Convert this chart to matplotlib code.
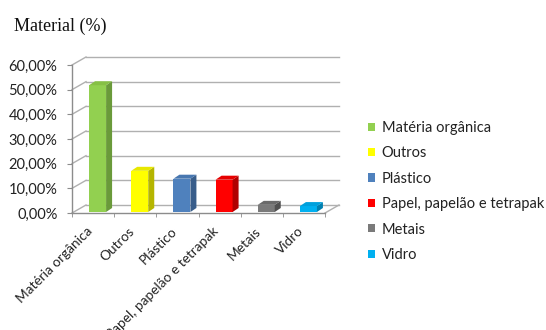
import matplotlib
matplotlib.use("Agg")
import matplotlib.pyplot as plt
from matplotlib.patches import Patch
from matplotlib.transforms import ScaledTranslation

categories = ["Matéria orgânica", "Outros", "Plástico",
              "Papel, papelão e tetrapak", "Metais", "Vidro"]
values = [51.4, 16.7, 13.5, 13.1, 2.9, 2.4]
yticks = [0, 10, 20, 30, 40, 50, 60]
ytick_labels = ["0,00%", "10,00%", "20,00%", "30,00%", "40,00%", "50,00%", "60,00%"]

front_colors = ["#92D050", "#FFFF00", "#4F81BD", "#FF0000", "#7A7A7A", "#00B0F0"]
side_colors = ["#6A9A3A", "#B5B500", "#385D8A", "#B00000", "#505050", "#0080B0"]
top_colors = ["#86C045", "#E8E800", "#4877B0", "#E60000", "#6A6A6A", "#00A0DC"]

W, H, DPI = 546, 330, 100
fig = plt.figure(figsize=(W / DPI, H / DPI), dpi=DPI)
fig.patch.set_facecolor("white")

# front plot box in pixels
left, right, y0, y60 = 72, 325, 213, 65
ax = fig.add_axes([left / W, (H - y0) / H, (right - left) / W, (y0 - y60) / H])
xmin, xmax = -0.5, 5.5
ax.set_xlim(xmin, xmax)
ax.set_ylim(0, 60)
ax.patch.set_alpha(0)

px_x = (right - left) / (xmax - xmin)
px_y = (y0 - y60) / 60.0

grid_c = "#B0B0B0"
axis_c = "#8C8C8C"

# back wall / side wall / floor
wdx, wdy = 14 / px_x, 8 / px_y
for v in yticks:
    ax.plot([xmin + wdx, xmax + wdx], [v + wdy, v + wdy], color=grid_c,
            lw=1.0, clip_on=False, zorder=1)
    ax.plot([xmin, xmin + wdx], [v, v + wdy], color=grid_c, lw=1.0,
            clip_on=False, zorder=1)
ax.plot([xmax, xmax + wdx], [0, wdy], color=grid_c, lw=1.0, clip_on=False, zorder=1)

# bars with a small depth
sx, sy = 4.5 / px_x, 1 / px_y
bdx, bdy = 6 / px_x, 4 / px_y
bw = 17 / px_x
xs = [i + sx for i in range(len(categories))]
ax.bar(xs, values, width=bw, bottom=sy, color=front_colors, zorder=3)
for x, v, sc, tc in zip(xs, values, side_colors, top_colors):
    x1 = x + bw / 2
    x0 = x - bw / 2
    ax.fill([x1, x1 + bdx, x1 + bdx, x1], [sy, sy + bdy, sy + v + bdy, sy + v],
            color=sc, lw=0, zorder=3, clip_on=False)
    ax.fill([x0, x0 + bdx, x1 + bdx, x1], [sy + v, sy + v + bdy, sy + v + bdy, sy + v],
            color=tc, lw=0, zorder=3, clip_on=False)

for s in ["top", "right"]:
    ax.spines[s].set_visible(False)
for s in ["left", "bottom"]:
    ax.spines[s].set_color(axis_c)
    ax.spines[s].set_linewidth(1.0)
    ax.spines[s].set_zorder(4)

ax.set_yticks(yticks)
ax.set_yticklabels(ytick_labels, fontfamily="Lato", fontsize=10.5, color="#222222")
ax.tick_params(axis="y", length=3.5, color=axis_c, pad=7)

ax.set_xticks(range(len(categories)))
ax.set_xticklabels(categories, rotation=45, ha="right", va="top",
                   rotation_mode="anchor", fontfamily="Lato", fontsize=9.8,
                   color="#222222")
ax.tick_params(axis="x", which="major", length=0, pad=10)
shift = ScaledTranslation(-7 / DPI, 2 / DPI, fig.dpi_scale_trans)
for lab in ax.get_xticklabels():
    lab.set_transform(lab.get_transform() + shift)
ax.set_xticks([i - 0.5 for i in range(len(categories) + 1)], minor=True)
ax.tick_params(axis="x", which="minor", length=3, color=axis_c)

fig.text(14 / W, 1 - 31 / H, "Material (%)", fontfamily="Liberation Serif",
         fontsize=13, color="#111111")

handles = [Patch(facecolor=c, edgecolor="none") for c in front_colors]
fig.legend(handles, categories, loc="upper left",
           bbox_to_anchor=(368 / W, 1 - 121 / H), frameon=False,
           prop={"family": "Lato", "size": 10.5}, handlelength=0.5,
           handleheight=0.5, handletextpad=0.45, labelspacing=0.78,
           borderpad=0, borderaxespad=0, labelcolor="#222222")

fig.savefig("out.png", dpi=DPI, facecolor="white")
